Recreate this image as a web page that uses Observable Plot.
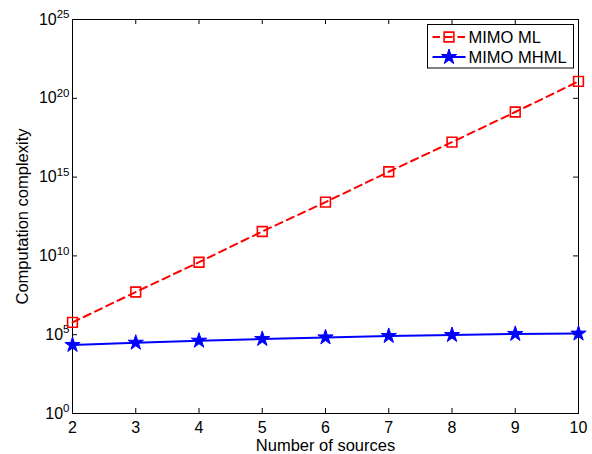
<!DOCTYPE html>
<html><head><meta charset="utf-8">
<script src="https://cdn.jsdelivr.net/npm/d3@7"></script>
<script src="https://cdn.jsdelivr.net/npm/@observablehq/plot@0.6"></script>
<style>
body{margin:0;background:#fff}
#chart{position:relative;width:592px;height:454px}
</style>
</head><body><div id="chart"></div>
<script>
// ---- data ----
const sources = [2, 3, 4, 5, 6, 7, 8, 9, 10];
const mlLog10 = [5.78, 7.71, 9.60, 11.55, 13.41, 15.34, 17.22, 19.13, 21.07];
const mhmlLog10 = [4.35, 4.49, 4.62, 4.73, 4.83, 4.92, 4.98, 5.05, 5.07];
const yTickExponents = [0, 5, 10, 15, 20, 25];
const seriesNames = ["MIMO ML", "MIMO MHML"];
const xLabel = "Number of sources";
const yLabel = "Computation complexity";

// ---- derived tables ----
const ml = sources.map((n, i) => ({n, v: Math.pow(10, mlLog10[i])}));
const mhml = sources.map((n, i) => ({n, v: Math.pow(10, mhmlLog10[i])}));
const yTicks = yTickExponents.map(e => Math.pow(10, e));

const W = 592, H = 454, mL = 72, mR = 14, mT = 19, mB = 41;
const plotW = W - mL - mR, plotH = H - mT - mB;
const font = "'Liberation Sans', Arial, Helvetica, sans-serif";
const RED = "#ff0000", BLUE = "#0000ff";

const plot = Plot.plot({
  width: W, height: H,
  marginLeft: mL, marginRight: mR, marginTop: mT, marginBottom: mB,
  style: {fontFamily: font, fontSize: "16px", color: "#000", background: "#fff", overflow: "visible"},
  x: {domain: [2, 10]},
  y: {type: "log", domain: [1, 1e25]},
  marks: [
    // inward ticks on all four sides
    Plot.tickX(sources, {x: d => d, insetTop: plotH - 5, stroke: "#000"}),
    Plot.tickX(sources, {x: d => d, insetBottom: plotH - 5, stroke: "#000"}),
    Plot.tickY(yTicks, {y: d => d, insetRight: plotW - 5, stroke: "#000"}),
    Plot.tickY(yTicks, {y: d => d, insetLeft: plotW - 5, stroke: "#000"}),
    Plot.axisX({ticks: sources, tickSize: 0, tickPadding: 8, tickFormat: d => String(d),
      fontSize: 16, label: null}),
    Plot.axisX({ticks: [], tickSize: 0,
      label: xLabel, labelAnchor: "center", labelArrow: "none", labelOffset: 37, fontSize: 16}),
    Plot.axisY({ticks: yTicks, tickSize: 0, tickPadding: 3, fontSize: 16,
      tickFormat: d => "10^" + Math.round(Math.log10(d)), label: null}),
    Plot.axisY({ticks: [], tickSize: 0,
      label: yLabel, labelAnchor: "center", labelArrow: "none", labelOffset: 56, fontSize: 16}),
    Plot.frame({stroke: "#000", strokeWidth: 1}),
    Plot.line(ml, {x: "n", y: "v", stroke: RED, strokeWidth: 2, strokeDasharray: "7.5,5"}),
    Plot.dot(ml, {x: "n", y: "v", symbol: "square", r: 5.5, stroke: RED, strokeWidth: 1.6, fill: "none"}),
    Plot.line(mhml, {x: "n", y: "v", stroke: BLUE, strokeWidth: 2}),
    Plot.dot(mhml, {x: "n", y: "v", symbol: "star", r: 4.8, fill: BLUE, stroke: BLUE, strokeWidth: 1})
  ]
});

document.getElementById("chart").appendChild(plot);
const svg = d3.select(plot);

// enforce font sizes directly on the text elements
svg.selectAll("text").each(function() {
  const t = this.textContent;
  const isLabel = (t === xLabel || t === yLabel);
  d3.select(this).style("font-size", isLabel ? "16.5px" : "16px").style("font-family", font);
});

// superscript exponents on y tick labels
svg.selectAll("text").each(function() {
  const t = this.textContent;
  const m = /^10\^(\d+)$/.exec(t);
  if (!m) return;
  const el = d3.select(this);
  el.text(null);
  el.append("tspan").text("10");
  el.append("tspan").attr("dy", "-0.55em").style("font-size", "11.5px").text(m[1]);
});

// legend inside the plot (top-right)
const lg = svg.append("g").style("font-family", font).style("font-size", "16.5px").attr("text-anchor", "start");
const lx = 427.5, ly = 24.5, lw = 146, lh = 43.5;
lg.append("rect").attr("x", lx).attr("y", ly).attr("width", lw).attr("height", lh)
  .attr("fill", "#fff").attr("stroke", "#000").attr("stroke-width", 1);
const legendItems = [
  {name: seriesNames[0], color: RED, dash: "7.5,5", sym: d3.symbolSquare, r: 5.5, fill: "none"},
  {name: seriesNames[1], color: BLUE, dash: null, sym: d3.symbolStar, r: 4.8, fill: BLUE}
];
legendItems.forEach((it, i) => {
  const cy = ly + 12.5 + i * 20;
  lg.append("line").attr("x1", lx + 5).attr("x2", lx + 38).attr("y1", cy).attr("y2", cy)
    .attr("stroke", it.color).attr("stroke-width", 2).attr("stroke-dasharray", it.dash);
  lg.append("path").attr("transform", `translate(${lx + 21.5},${cy})`)
    .attr("d", d3.symbol(it.sym, Math.PI * it.r * it.r)())
    .attr("fill", it.fill).attr("stroke", it.color).attr("stroke-width", it.fill === "none" ? 1.6 : 1);
  lg.append("text").attr("x", lx + 41).attr("y", cy).attr("dy", "0.35em")
    .attr("text-anchor", "start").attr("fill", "#000").style("font-size", "16.5px").text(it.name);
});
</script>
</body></html>
